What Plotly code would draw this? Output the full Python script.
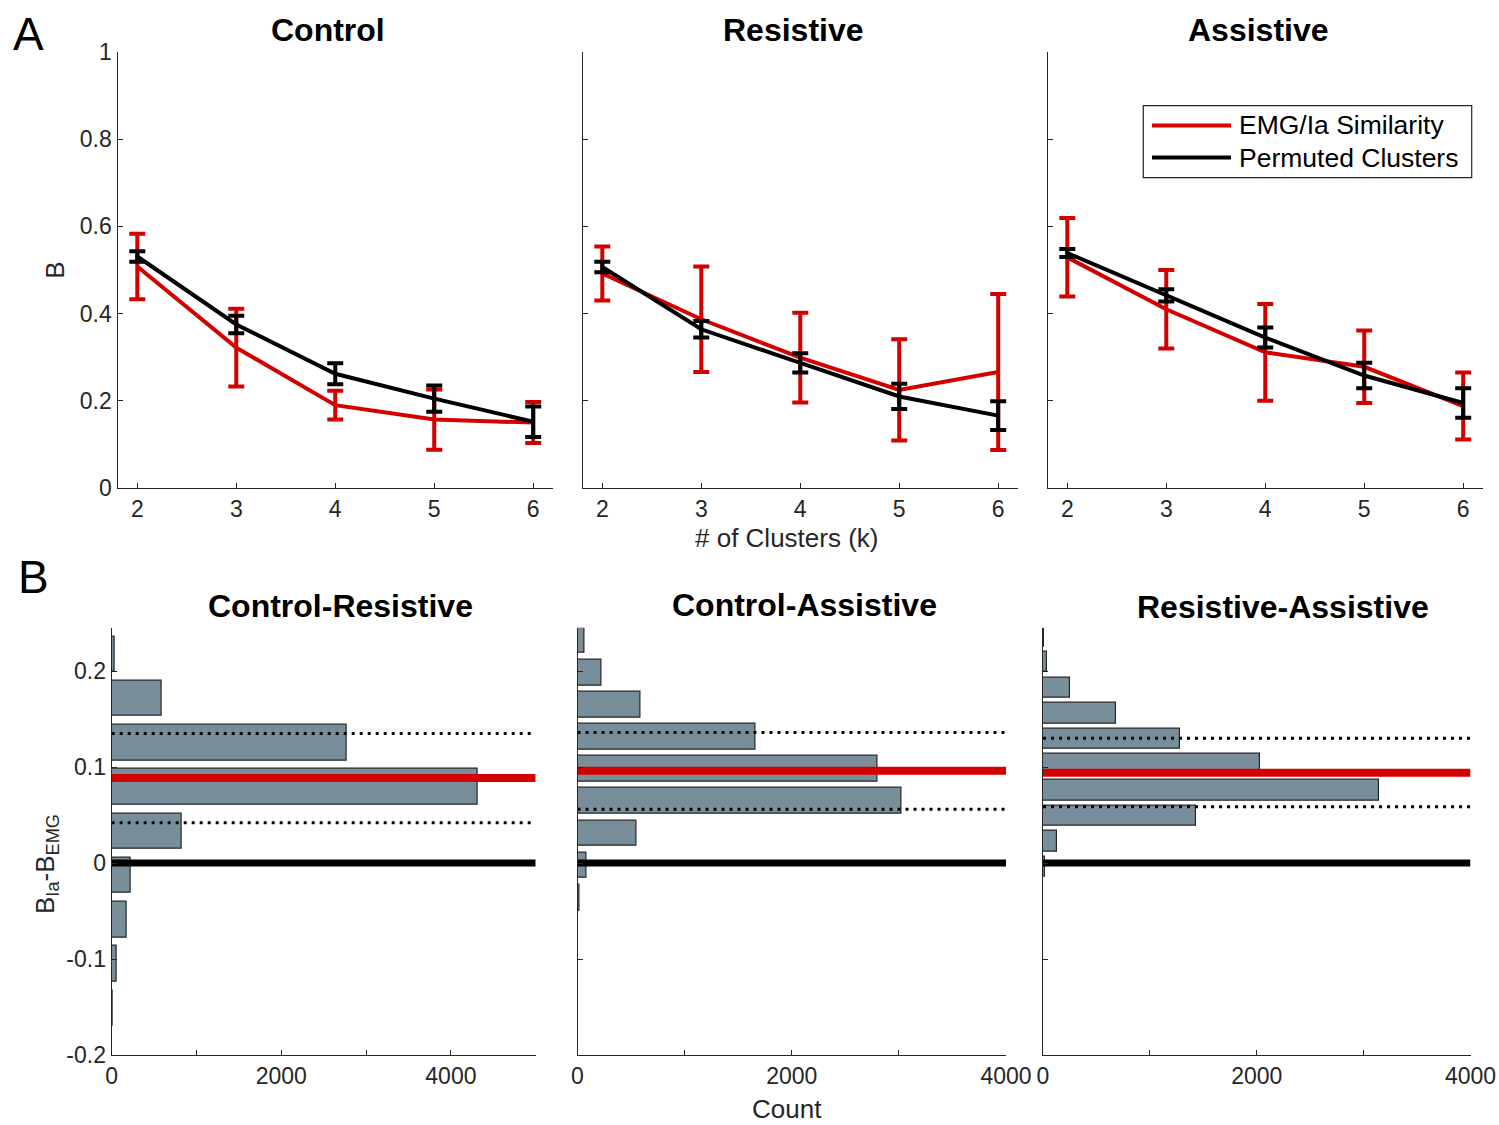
import plotly.graph_objects as go

# ---------------- data ----------------
K = [2, 3, 4, 5, 6]
top_titles = ["Control", "Resistive", "Assistive"]

sim_mean = {
    "Control":   [0.508, 0.322, 0.190, 0.157, 0.150],
    "Resistive": [0.492, 0.387, 0.299, 0.225, 0.266],
    "Assistive": [0.529, 0.410, 0.311, 0.278, 0.188],
}
sim_err = {
    "Control":   [0.075, 0.089, 0.033, 0.069, 0.047],
    "Resistive": [0.062, 0.121, 0.103, 0.116, 0.179],
    "Assistive": [0.090, 0.090, 0.111, 0.083, 0.077],
}
perm_mean = {
    "Control":   [0.531, 0.375, 0.262, 0.205, 0.152],
    "Resistive": [0.507, 0.364, 0.287, 0.210, 0.166],
    "Assistive": [0.539, 0.442, 0.345, 0.258, 0.195],
}
perm_err = {
    "Control":   [0.012, 0.020, 0.024, 0.030, 0.035],
    "Resistive": [0.012, 0.019, 0.022, 0.029, 0.033],
    "Assistive": [0.009, 0.014, 0.023, 0.029, 0.034],
}

bot_titles = ["Control-Resistive", "Control-Assistive", "Resistive-Assistive"]
cr_bins = [0.2175, 0.1714, 0.1253, 0.0792, 0.0331, -0.0130, -0.0591, -0.1052, -0.1513]
cr_counts = [40, 585, 2775, 4320, 825, 224, 177, 55, 15]
ca_bins = [0.2320, 0.1985, 0.1650, 0.1315, 0.0980, 0.0645, 0.0310, -0.0025, -0.0360]
ca_counts = [62, 222, 590, 1658, 2801, 3029, 553, 87, 15]
ra_bins = [0.2360, 0.2094, 0.1827, 0.1560, 0.1293, 0.1026, 0.0759, 0.0492, 0.0225, -0.0042]
ra_counts = [10, 40, 253, 687, 1283, 2033, 3145, 1436, 134, 20]

observed = [0.0885, 0.096, 0.094]       # red line (observed difference)
ci_upper = [0.135, 0.136, 0.130]        # dotted
ci_lower = [0.042, 0.056, 0.0587]       # dotted
null_val = [0.0, 0.0, 0.0]              # black line
count_max = [5000, 4000, 4000]

top_yticks = [0, 0.2, 0.4, 0.6, 0.8, 1]
top_yticklabels = ["0", "0.2", "0.4", "0.6", "0.8", "1"]
bot_yticks = [-0.2, -0.1, 0, 0.1, 0.2]
bot_yticklabels = ["-0.2", "-0.1", "0", "0.1", "0.2"]
count_ticks = [0, 2000, 4000]
count_ticklabels = ["0", "2000", "4000"]

# ---------------- style ----------------
W, H = 1499, 1125
FONT = "Liberation Sans, Arial, Helvetica, sans-serif"
AX = "#262626"
RED = "#D40000"
BAR = "#788F9B"


def px(x):
    return x / W


def py(y):
    return 1 - y / H


fig = go.Figure()

# top panels
top_dom = [(117.5, 553.0), (582.5, 1018.0), (1047.5, 1483.0)]
for i, name in enumerate(top_titles):
    xa = "x" if i == 0 else f"x{i + 1}"
    ya = "y" if i == 0 else f"y{i + 1}"
    fig.add_trace(go.Scatter(
        x=K, y=sim_mean[name], mode="lines", name="EMG/Ia Similarity",
        line=dict(color=RED, width=4), showlegend=False,
        error_y=dict(type="data", array=sim_err[name], color=RED, thickness=4, width=8),
        xaxis=xa, yaxis=ya))
    fig.add_trace(go.Scatter(
        x=K, y=perm_mean[name], mode="lines", name="Permuted Clusters",
        line=dict(color="black", width=4), showlegend=False,
        error_y=dict(type="data", array=perm_err[name], color="black", thickness=4, width=8),
        xaxis=xa, yaxis=ya))

# bottom panels
bot_dom = [(111.7, 535.7), (577.5, 1006.0), (1043.0, 1470.5)]
bins_all = [cr_bins, ca_bins, ra_bins]
counts_all = [cr_counts, ca_counts, ra_counts]
for i in range(3):
    xa = f"x{i + 4}"
    ya = f"y{i + 4}"
    b = bins_all[i]
    bw = 0.8 * abs(b[0] - b[1])
    fig.add_trace(go.Bar(
        x=counts_all[i], y=b, orientation="h", width=bw,
        marker=dict(color=BAR, line=dict(color=AX, width=1.2)),
        showlegend=False, xaxis=xa, yaxis=ya))
    xm = count_max[i]
    for val in (ci_upper[i], ci_lower[i]):
        fig.add_trace(go.Scatter(
            x=[0, xm], y=[val, val], mode="lines",
            line=dict(color="black", width=3, dash="3px,5px"),
            showlegend=False, xaxis=xa, yaxis=ya))
    fig.add_trace(go.Scatter(
        x=[0, xm], y=[observed[i], observed[i]], mode="lines",
        line=dict(color=RED, width=8), showlegend=False, xaxis=xa, yaxis=ya))
    fig.add_trace(go.Scatter(
        x=[0, xm], y=[null_val[i], null_val[i]], mode="lines",
        line=dict(color="black", width=7), showlegend=False, xaxis=xa, yaxis=ya))

axis_common = dict(
    showline=True, linecolor=AX, linewidth=1.2, ticks="inside", ticklen=5,
    tickcolor=AX, tickwidth=1.2, showgrid=False, zeroline=False, automargin=False,
    tickfont=dict(family=FONT, size=23, color=AX), mirror=False, fixedrange=True)

layout = dict(
    width=W, height=H, autosize=False, margin=dict(l=0, r=0, t=0, b=0, pad=0),
    paper_bgcolor="white", plot_bgcolor="white",
    font=dict(family=FONT, color=AX), showlegend=False, bargap=0,
)

top_y_dom = [py(488), py(52)]
bot_y_dom = [py(1055), py(627.8)]
for i in range(3):
    xk = "xaxis" if i == 0 else f"xaxis{i + 1}"
    yk = "yaxis" if i == 0 else f"yaxis{i + 1}"
    layout[xk] = dict(axis_common, domain=[px(top_dom[i][0]), px(top_dom[i][1])],
                      range=[1.8, 6.2], tickvals=K, ticktext=[str(k) for k in K],
                      anchor="y" if i == 0 else f"y{i + 1}")
    layout[yk] = dict(axis_common, domain=top_y_dom, range=[0, 1],
                      tickvals=top_yticks, ticktext=top_yticklabels,
                      showticklabels=(i == 0),
                      anchor="x" if i == 0 else f"x{i + 1}")
    # bottom
    xm = count_max[i]
    layout[f"xaxis{i + 4}"] = dict(
        axis_common, domain=[px(bot_dom[i][0]), px(bot_dom[i][1])],
        range=[0, xm], tickvals=count_ticks, ticktext=count_ticklabels,
        minor=dict(ticks="inside", tick0=0, dtick=1000, ticklen=5,
                   tickcolor=AX, tickwidth=1.2, showgrid=False),
        anchor=f"y{i + 4}")
    layout[f"yaxis{i + 4}"] = dict(axis_common, domain=bot_y_dom, range=[-0.2, 0.245],
                                   tickvals=bot_yticks, ticktext=bot_yticklabels,
                                   showticklabels=(i == 0), anchor=f"x{i + 4}")

label_font = dict(family=FONT, size=26, color=AX)
layout["yaxis"]["title"] = dict(text="B", font=label_font, standoff=7)

fig.update_layout(**layout)

# axis labels placed like the original (not centred on a single panel)
fig.add_annotation(text="# of Clusters (k)", x=px(787), y=py(538), xref="paper", yref="paper",
                   xanchor="center", yanchor="middle", showarrow=False, font=label_font)
fig.add_annotation(text="Count", x=px(787), y=py(1109), xref="paper", yref="paper",
                   xanchor="center", yanchor="middle", showarrow=False, font=label_font)
fig.add_annotation(text="B<sub>Ia</sub>-B<sub>EMG</sub>", x=px(46), y=py(864),
                   xref="paper", yref="paper", textangle=-90,
                   xanchor="center", yanchor="middle", showarrow=False, font=label_font)

# titles and panel letters
title_font = dict(family=FONT, size=32, color="black")
top_title_pos = [(328, 30), (793, 30), (1258, 30)]
for t, (x, y) in zip(top_titles, top_title_pos):
    fig.add_annotation(text=f"<b>{t}</b>", x=px(x), y=py(y), xref="paper", yref="paper",
                       xanchor="center", yanchor="middle", showarrow=False, font=title_font)
bot_title_pos = [(340.5, 606), (804, 605), (1283, 607)]
for t, (x, y) in zip(bot_titles, bot_title_pos):
    fig.add_annotation(text=f"<b>{t}</b>", x=px(x), y=py(y), xref="paper", yref="paper",
                       xanchor="center", yanchor="middle", showarrow=False, font=title_font)

letter_font = dict(family=FONT, size=46, color="black")
fig.add_annotation(text="A", x=px(28), y=py(34), xref="paper", yref="paper",
                   xanchor="center", yanchor="middle", showarrow=False, font=letter_font)
fig.add_annotation(text="B", x=px(33), y=py(577), xref="paper", yref="paper",
                   xanchor="center", yanchor="middle", showarrow=False, font=letter_font)

# legend (drawn in the right top panel)
fig.add_shape(type="rect", xref="paper", yref="paper",
              x0=px(1143.3), x1=px(1471.7), y0=py(177.7), y1=py(105.7),
              line=dict(color=AX, width=1.2), fillcolor="white", layer="above")
leg_items = [("EMG/Ia Similarity", RED, 125.5), ("Permuted Clusters", "black", 157.5)]
leg_font = dict(family=FONT, size=26.5, color="black")
for txt, col, yy in leg_items:
    fig.add_shape(type="line", xref="paper", yref="paper",
                  x0=px(1152), x1=px(1231), y0=py(yy), y1=py(yy),
                  line=dict(color=col, width=4), layer="above")
    fig.add_annotation(text=txt, x=px(1237), y=py(yy), xref="paper", yref="paper",
                       xanchor="left", yanchor="middle", showarrow=False, font=leg_font)

# remove the page's default body margin so the 1499x1125 figure fills the window
fig.write_html("out.html", config={"displayModeBar": False},
               post_script="document.body.style.margin='0px';")
